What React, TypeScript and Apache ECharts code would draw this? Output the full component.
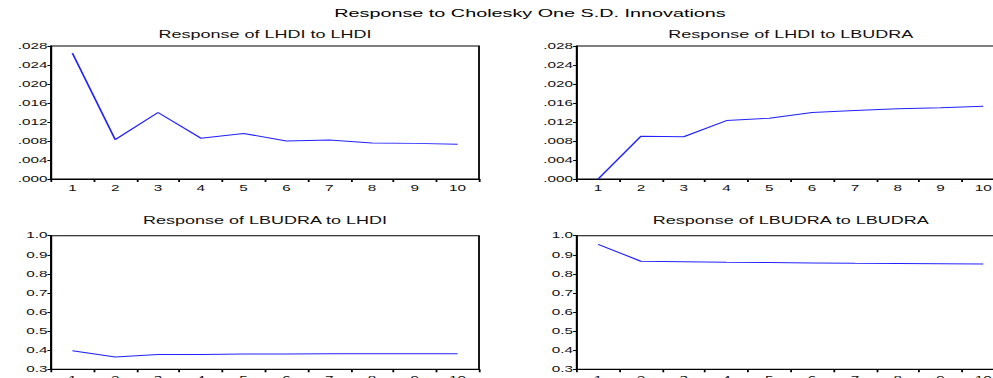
import React, { useEffect, useRef } from "react";
import * as echarts from "echarts";

// ---- data ----
const periods = ["1", "2", "3", "4", "5", "6", "7", "8", "9", "10"];
const lhdiToLhdi = [0.0265, 0.0083, 0.014, 0.0086, 0.0096, 0.008, 0.0082, 0.0076, 0.0075, 0.0073];
const lhdiToLbudra = [0.0, 0.009, 0.0089, 0.0123, 0.0128, 0.014, 0.0144, 0.0148, 0.015, 0.0153];
const lbudraToLhdi = [0.397, 0.364, 0.377, 0.378, 0.38, 0.38, 0.381, 0.381, 0.381, 0.381];
const lbudraToLbudra = [0.955, 0.866, 0.864, 0.861, 0.859, 0.857, 0.855, 0.854, 0.853, 0.852];

const mainTitle = "Response to Cholesky One S.D. Innovations";
const panelTitles = [
  "Response of LHDI to LHDI",
  "Response of LHDI to LBUDRA",
  "Response of LBUDRA to LHDI",
  "Response of LBUDRA to LBUDRA",
];
const panelSeries = [lhdiToLhdi, lhdiToLbudra, lbudraToLhdi, lbudraToLbudra];

// the whole figure is horizontally stretched in the reference
const SX = 1.8;
const px = (v: number) => v / SX;
const FONT = "'Liberation Sans', Arial, sans-serif";

export default function App() {
  const ref = useRef<HTMLDivElement>(null);

  useEffect(() => {
    if (!ref.current) return;
    const chart = echarts.init(ref.current, null, { renderer: "svg" });

    const lefts = [px(51), px(576.7), px(51), px(576.7)];
    const tops = [46, 46, 235.7, 235.7];
    const heights = [133, 133, 133.6, 133.6];
    const width = px(428);

    const grids = lefts.map((l, i) => ({
      left: l,
      top: tops[i],
      width,
      height: heights[i],
      show: true,
      borderColor: "#000",
      borderWidth: 1,
      backgroundColor: "transparent",
      containLabel: false,
      outerBoundsMode: "none",
    }));

    const xAxes = grids.map((_, i) => ({
      type: "category" as const,
      gridIndex: i,
      data: periods,
      boundaryGap: true,
      axisLine: { show: true, lineStyle: { color: "#000", width: 1 } },
      axisTick: { show: true, inside: false, length: 3, lineStyle: { color: "#000" } },
      axisLabel: { color: "#111", fontSize: 8.5, fontFamily: FONT, margin: 5 },
      splitLine: { show: false },
    }));

    const yAxes = grids.map((_, i) => {
      const top = i < 2;
      return {
        type: "value" as const,
        gridIndex: i,
        min: top ? 0 : 0.3,
        max: top ? 0.028 : 1.0,
        interval: top ? 0.004 : 0.1,
        axisLine: { show: true, lineStyle: { color: "#000", width: 1 } },
        axisTick: { show: true, inside: false, length: 2, lineStyle: { color: "#000" } },
        axisLabel: {
          color: "#111",
          fontSize: 8.5,
          fontFamily: FONT,
          margin: 2,
          formatter: (v: number) => (top ? v.toFixed(3).replace(/^0/, "") : v.toFixed(1)),
        },
        splitLine: { show: false },
      };
    });

    const series = panelSeries.map((d, i) => ({
      type: "line" as const,
      xAxisIndex: i,
      yAxisIndex: i,
      data: d,
      symbol: "none",
      lineStyle: { color: "#2222ff", width: 1 },
      itemStyle: { color: "#2222ff" },
    }));

    const titleTops = [30, 30, 215.5, 215.5];
    const titleCenters = [px(265), px(790.7), px(265), px(790.7)];

    const titles = [
      {
        text: mainTitle,
        left: px(530),
        top: 7.3,
        textAlign: "center",
        padding: 0,
        textStyle: { fontSize: 11, fontWeight: "normal", fontFamily: FONT, color: "#000" },
      },
      ...panelTitles.map((t, i) => ({
        text: t,
        left: titleCenters[i],
        top: titleTops[i],
        textAlign: "center",
        padding: 0,
        textStyle: { fontSize: 10, fontWeight: "normal", fontFamily: FONT, color: "#111" },
      })),
    ];

    chart.setOption({
      animation: false,
      backgroundColor: "#fff",
      title: titles,
      grid: grids,
      xAxis: xAxes,
      yAxis: yAxes,
      series,
    });

    return () => chart.dispose();
  }, []);

  return (
    <div
      style={{
        position: "fixed",
        left: 0,
        top: 0,
        width: 993,
        height: 378,
        overflow: "hidden",
        background: "#fff",
      }}
    >
      <div
        ref={ref}
        style={{
          width: Math.round(1012 / SX),
          height: 378,
          transform: `scaleX(${SX})`,
          transformOrigin: "0 0",
        }}
      />
    </div>
  );
}
